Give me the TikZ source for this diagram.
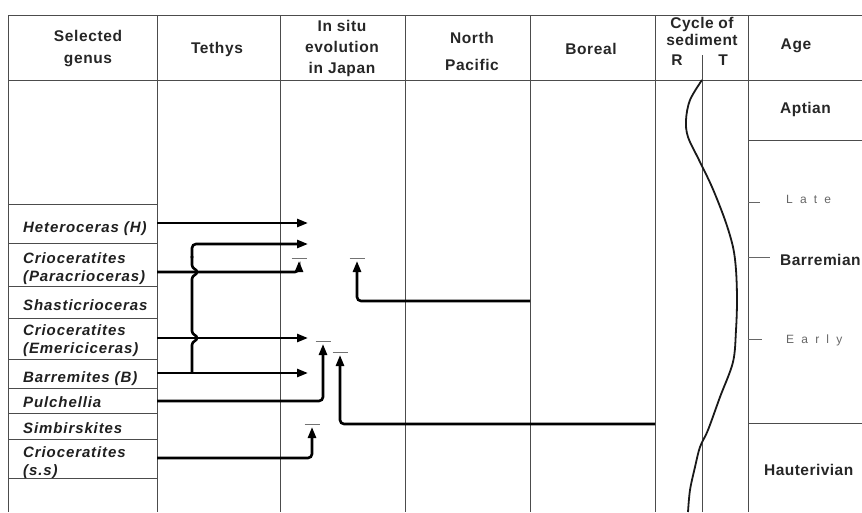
\documentclass[tikz,border=0pt]{standalone}
\usepackage{fontspec}
\setmainfont{Liberation Sans}
\usetikzlibrary{arrows.meta}
\begin{document}
\begin{tikzpicture}[x=1pt,y=-1pt,
  gridline/.style={draw=black!70, line width=1pt},
  flow/.style={draw=black, line width=2.6pt, rounded corners=4pt, -{Triangle[length=11pt,width=8pt]}},
  bracepath/.style={draw=black, line width=2.6pt},
  tbar/.style={draw=black!55, line width=1pt},
  tick/.style={draw=black!60, line width=1pt},
  head/.style={font=\fontsize{15.5}{21}\selectfont\bfseries\addfontfeature{LetterSpace=4}, text=black!85, align=center, inner sep=0pt, anchor=base},
  genus/.style={font=\fontsize{15}{18}\selectfont\bfseries\itshape\addfontfeature{LetterSpace=6}, text=black!88, align=left, inner sep=0pt, anchor=base west},
  agename/.style={font=\fontsize{15.5}{19}\selectfont\bfseries\addfontfeature{LetterSpace=3}, text=black!85, inner sep=0pt, anchor=base west},
  subage/.style={font=\fontsize{12}{14}\selectfont\addfontfeature{LetterSpace=60}, text=black!60, inner sep=0pt, anchor=base west}
]
\useasboundingbox (0,0) rectangle (862,512);

% ---------------- table frame ----------------
\draw[gridline] (8,15) -- (862,15);
\draw[gridline] (8,80) -- (862,80);
\foreach \xx in {8,157,280,405,530,655,748}
  \draw[gridline] (\xx,15) -- (\xx,512);
\draw[gridline] (702,55) -- (702,512);
\draw[gridline] (748,140) -- (862,140);
\draw[gridline] (748,423) -- (862,423);
\foreach \yy in {204,243,286,318,359,388,413,439,478}
  \draw[gridline] (8,\yy) -- (157,\yy);
\draw[tick] (748,202) -- (760,202);
\draw[tick] (748,257) -- (770,257);
\draw[tick] (748,339) -- (762,339);

% ---------------- headers (base = last line) ----------------
\node[head, font=\fontsize{15.5}{22}\selectfont\bfseries\addfontfeature{LetterSpace=4}] (hsel) at (88,63) {Selected\\genus};
\node[head] (hteth) at (217,53) {Tethys};
\node[head] (hsitu) at (342,73) {In situ\\evolution\\in Japan};
\node[head, font=\fontsize{15.5}{27}\selectfont\bfseries\addfontfeature{LetterSpace=4}] (hnp) at (472,70) {North\\Pacific};
\node[head] (hbor) at (591,54) {Boreal};
\node[head, font=\fontsize{15.5}{17}\selectfont\bfseries\addfontfeature{LetterSpace=3}] (hcyc) at (702,45) {Cycle of\\sediment};
\node[head] (hR) at (677,65) {R};
\node[head] (hT) at (723,65) {T};
\node[head] (hage) at (796,49) {Age};

% ---------------- age column ----------------
\node[agename] (aapt) at (780,113) {Aptian};
\node[subage] (alate) at (786,203) {Late};
\node[agename] (abar) at (780,265) {Barremian};
\node[subage] (aearly) at (786,343) {Early};
\node[agename] (ahau) at (764,475) {Hauterivian};

% ---------------- genus column (base = last line) ----------------
\node[genus] (gHet) at (23,232) {Heteroceras (\textit{H})};
\node[genus] (gPar) at (23,281) {Crioceratites\\(Paracrioceras)};
\node[genus] (gSha) at (23,310) {Shasticrioceras};
\node[genus] (gEme) at (23,353) {Crioceratites\\(Emericiceras)};
\node[genus] (gBar) at (23,382) {Barremites (\textit{B})};
\node[genus] (gPul) at (23,407) {Pulchellia};
\node[genus] (gSim) at (23,433) {Simbirskites};
\node[genus] (gCri) at (23,475) {Crioceratites\\(s.s)};

% ---------------- connector end points ----------------
\coordinate (sHet) at (157,223);
\coordinate (eHet) at (308,223);
\coordinate (sPar) at (157,272);
\coordinate (tPar) at (299,261);
\coordinate (sEme) at (157,338);
\coordinate (eEme) at (308,338);
\coordinate (sBar) at (157,373);
\coordinate (eBar) at (308,373);
\coordinate (sPul) at (157,401);
\coordinate (tPul) at (323,344);
\coordinate (sCri) at (157,458);
\coordinate (tCri) at (312,427);
\coordinate (sSha) at (530,301);
\coordinate (tSha) at (357,261);
\coordinate (sSim) at (655,424);
\coordinate (tSim) at (340,355);
\coordinate (bBot) at (192,373);
\coordinate (bTop) at (192,244);
\coordinate (eBr) at (308,244);

% ---------------- T bars ----------------
\foreach \c in {tPar,tPul,tCri,tSha,tSim}
  \draw[tbar] ([xshift=-7.5pt,yshift=3pt]\c) -- ([xshift=7.5pt,yshift=3pt]\c);

% ---------------- connectors ----------------
\draw[flow] (sHet) -- (eHet);
\draw[flow] (sPar) -| (tPar);
\draw[flow] (sEme) -- (eEme);
\draw[flow] (sBar) -- (eBar);
\draw[flow] (sPul) -| (tPul);
\draw[flow] (sCri) -| (tCri);
\draw[flow] (sSha) -| (tSha);
\draw[flow] (sSim) -| (tSim);

% brace joining Paracrioceras, Emericiceras and Barremites
\draw[bracepath] (bBot) -- (192,345)
  .. controls (192,341) and (197,341) .. (197,338)
  .. controls (197,335) and (192,335) .. (192,331)
  -- (192,279)
  .. controls (192,275) and (197,275) .. (197,272)
  .. controls (197,269) and (192,269) .. (192,265)
  -- (192,256);
\draw[flow] (192,258) -- (bTop) -- (eBr);

% ---------------- sediment cycle curve ----------------
\draw[line width=1.8pt, black!90] plot[smooth, tension=0.55] coordinates {
  (702,80) (690,100) (686,120) (688,137) (699,160) (712,187) (725,220)
  (733,247) (736,270) (737,300) (736,330) (733,362) (720,397) (708,430)
  (700,447) (695,467) (690,490) (688,512)};
\end{tikzpicture}
\end{document}
